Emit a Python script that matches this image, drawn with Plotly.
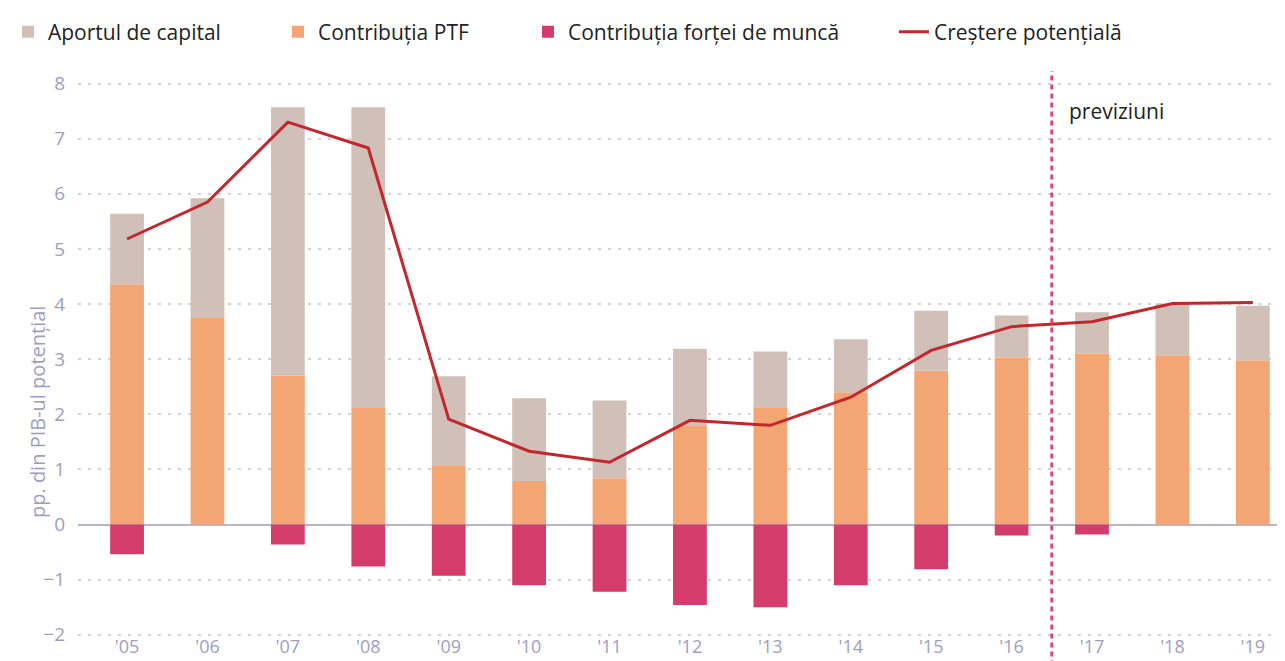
import plotly.graph_objects as go

years = ["'05", "'06", "'07", "'08", "'09", "'10", "'11", "'12",
         "'13", "'14", "'15", "'16", "'17", "'18", "'19"]

ptf = [4.36, 3.76, 2.70, 2.13, 1.06, 0.79, 0.84, 1.80, 2.13, 2.40, 2.79, 3.03, 3.10, 3.07, 2.98]
capital = [1.28, 2.16, 4.87, 5.44, 1.63, 1.50, 1.41, 1.39, 1.01, 0.96, 1.09, 0.76, 0.75, 0.94, 0.99]
labor = [-0.54, 0.0, -0.36, -0.76, -0.93, -1.10, -1.22, -1.46, -1.50, -1.10, -0.81, -0.20, -0.18, 0.0, 0.0]
potential = [5.18, 5.85, 7.30, 6.83, 1.91, 1.33, 1.13, 1.89, 1.80, 2.31, 3.16, 3.59, 3.68, 4.01, 4.03]

y_ticks = [-2, -1, 0, 1, 2, 3, 4, 5, 6, 7, 8]

FONT = "Open Sans"
TICK_COLOR = "#9e9ec2"
TEXT_COLOR = "#222222"

fig = go.Figure()

fig.add_trace(go.Bar(
    x=years, y=ptf, name="Contribuția PTF", legend="legend2",
    marker_color="#f4a574", marker_line_width=0, width=0.42
))
fig.add_trace(go.Bar(
    x=years, y=capital, name="Aportul de capital", legend="legend",
    marker_color="#d1c0b8", marker_line_width=0, width=0.42
))
fig.add_trace(go.Bar(
    x=years, y=labor, name="Contribuția forței de muncă", legend="legend3",
    marker_color="#d33c6b", marker_line_width=0, width=0.42
))
fig.add_trace(go.Scatter(
    x=years, y=potential, name="Creștere potențială", mode="lines", legend="legend4",
    line=dict(color="#c4262e", width=3)
))

# forecast separator between '16 and '17
fig.add_shape(
    type="line", xref="x", yref="paper", x0=11.5, x1=11.5, y0=-0.05, y1=0.993,
    line=dict(color="#d94873", width=3, dash="5px,4px"), layer="above"
)
fig.add_annotation(
    x=11.69, y=7.5, xref="x", yref="y", text="previziuni", showarrow=False,
    xanchor="left", font=dict(family=FONT, size=21, color=TEXT_COLOR)
)
fig.add_annotation(
    x=-0.0464, y=2.05, xref="paper", yref="y", text="pp. din PIB-ul potențial",
    showarrow=False, textangle=-90, font=dict(family=FONT, size=20, color=TICK_COLOR)
)

legend_style = dict(
    orientation="h", y=1.0614, yanchor="middle", xanchor="left",
    font=dict(family=FONT, size=21, color=TEXT_COLOR), itemwidth=30,
    bgcolor="rgba(0,0,0,0)"
)

# page body adds an 8px offset, so the figure is drawn 8px smaller
fig.update_layout(
    barmode="relative",
    width=1277, height=653,
    margin=dict(l=70, r=0, t=59, b=24, autoexpand=False),
    plot_bgcolor="white", paper_bgcolor="white",
    font=dict(family=FONT, size=19, color=TEXT_COLOR),
    showlegend=True,
    legend=dict(x=-0.058, **legend_style),
    legend2=dict(x=0.1657, **legend_style),
    legend3=dict(x=0.3728, **legend_style),
    legend4=dict(x=0.676, **legend_style),
    xaxis=dict(
        range=[-0.61, 14.4], showgrid=False, showline=False, zeroline=False,
        tickfont=dict(family=FONT, size=18, color=TICK_COLOR), ticks="",
        ticklabelstandoff=-3
    ),
    yaxis=dict(
        range=[-2.04, 8.3], tickvals=y_ticks, showgrid=True,
        gridcolor="#d4d4d4", gridwidth=1.5, griddash="3px,7px",
        zeroline=True, zerolinecolor="#b8b4cc", zerolinewidth=2,
        showline=False, ticks="", ticklabelstandoff=12,
        tickfont=dict(family=FONT, size=19, color=TICK_COLOR)
    ),
)

fig.write_html("out.html")
